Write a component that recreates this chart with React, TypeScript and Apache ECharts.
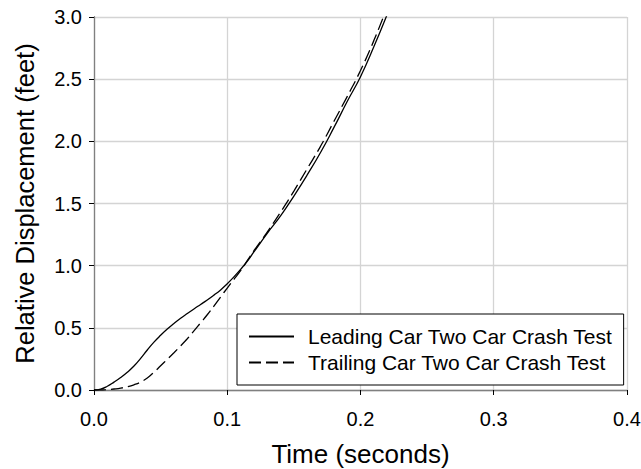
import React, { useEffect, useRef } from "react";
import * as echarts from "echarts";

const timeLeading = [0, 0.005, 0.01, 0.015, 0.02, 0.025, 0.03, 0.035, 0.04, 0.045, 0.05, 0.055, 0.06, 0.065, 0.07, 0.075, 0.08, 0.085, 0.09, 0.095, 0.1, 0.105, 0.11, 0.115, 0.12, 0.13, 0.14, 0.15, 0.16, 0.17, 0.18, 0.19, 0.2, 0.21, 0.22];
const leadingDisp = [0, 0.007, 0.03, 0.063, 0.1, 0.143, 0.193, 0.255, 0.322, 0.385, 0.44, 0.49, 0.535, 0.577, 0.615, 0.652, 0.688, 0.724, 0.763, 0.805, 0.855, 0.91, 0.97, 1.035, 1.11, 1.26, 1.4, 1.56, 1.73, 1.91, 2.11, 2.32, 2.52, 2.76, 3.02];

const timeTrailing = [0, 0.005, 0.01, 0.015, 0.02, 0.025, 0.03, 0.035, 0.04, 0.045, 0.05, 0.055, 0.06, 0.065, 0.07, 0.075, 0.08, 0.085, 0.09, 0.095, 0.1, 0.105, 0.11, 0.115, 0.12, 0.13, 0.14, 0.15, 0.16, 0.17, 0.18, 0.19, 0.2, 0.21, 0.22];
const trailingDisp = [0, 0, 0.003, 0.008, 0.015, 0.026, 0.042, 0.064, 0.097, 0.143, 0.195, 0.247, 0.3, 0.355, 0.412, 0.475, 0.54, 0.605, 0.675, 0.748, 0.82, 0.89, 0.96, 1.04, 1.12, 1.27, 1.43, 1.6, 1.78, 1.96, 2.16, 2.36, 2.57, 2.81, 3.08];

const seriesNames = ["Leading Car Two Car Crash Test", "Trailing Car Two Car Crash Test"];
const xTitle = "Time (seconds)";
const yTitle = "Relative Displacement (feet)";

const FONT = "'Liberation Sans', Arial, sans-serif";

export default function App() {
  const ref = useRef<HTMLDivElement>(null);
  useEffect(() => {
    if (!ref.current) return;
    const chart = echarts.init(ref.current, null, { renderer: "svg" });
    const pair = (xs: number[], ys: number[]) => xs.map((x, i) => [x, ys[i]]);
    chart.setOption({
      animation: false,
      backgroundColor: "#ffffff",
      textStyle: { fontFamily: FONT },
      grid: { left: 94, right: 14, top: 17, bottom: 79, containLabel: false, outerBoundsMode: "none" },
      legend: {
        orient: "vertical",
        left: 237,
        top: 314,
        padding: [12, 11, 12, 11],
        itemGap: 5,
        itemWidth: 45,
        itemHeight: 20,
        borderColor: "#000",
        borderWidth: 1,
        backgroundColor: "#fff",
        itemStyle: { color: "transparent", borderColor: "transparent", borderWidth: 0, opacity: 0 },
        textStyle: { fontFamily: FONT, fontSize: 21, color: "#000", padding: [0, 0, 0, 9] },
        data: seriesNames.map((n) => ({ name: n })),
      },
      xAxis: [
        {
          type: "value",
          min: 0,
          max: 0.4,
          interval: 0.1,
          name: xTitle,
          nameLocation: "middle",
          nameGap: 51,
          nameTextStyle: { fontFamily: FONT, fontSize: 26, color: "#000" },
          axisLine: { show: true, onZero: false, lineStyle: { color: "#000", width: 1 } },
          axisTick: { show: true, inside: false, length: 5, lineStyle: { color: "#000" } },
          axisLabel: { fontFamily: FONT, fontSize: 20, color: "#000", margin: 19, formatter: (v: number) => v.toFixed(1) },
          splitLine: { show: true, lineStyle: { color: "#d4d4d4", width: 1.3 } },
        },
        {
          type: "value",
          position: "top",
          min: 0,
          max: 0.4,
          interval: 0.1,
          axisLine: { show: true, lineStyle: { color: "#808080", width: 1.3 } },
          axisTick: { show: false },
          axisLabel: { show: false },
          splitLine: { show: false },
        },
      ],
      yAxis: [
        {
          type: "value",
          min: 0,
          max: 3,
          interval: 0.5,
          name: yTitle,
          nameLocation: "middle",
          nameGap: 56,
          nameTextStyle: { fontFamily: FONT, fontSize: 25.5, color: "#000" },
          axisLine: { show: true, onZero: false, lineStyle: { color: "#404040", width: 1 } },
          axisTick: { show: true, inside: false, length: 5, lineStyle: { color: "#000" } },
          axisLabel: { fontFamily: FONT, fontSize: 20, color: "#000", margin: 12, formatter: (v: number) => v.toFixed(1) },
          splitLine: { show: true, lineStyle: { color: "#d4d4d4", width: 1.3 } },
        },
        {
          type: "value",
          position: "right",
          min: 0,
          max: 3,
          interval: 0.5,
          axisLine: { show: true, lineStyle: { color: "#808080", width: 1.3 } },
          axisTick: { show: false },
          axisLabel: { show: false },
          splitLine: { show: false },
        },
      ],
      series: [
        {
          name: seriesNames[0],
          type: "line",
          data: pair(timeLeading, leadingDisp),
          smooth: 0.5,
          symbol: "none",
          clip: true,
          lineStyle: { color: "#000", width: 1.3, type: "solid" },
          itemStyle: { color: "#000" },
        },
        {
          name: seriesNames[1],
          type: "line",
          data: pair(timeTrailing, trailingDisp),
          smooth: 0.5,
          symbol: "none",
          clip: true,
          lineStyle: { color: "#000", width: 1.3, type: [12, 5] },
          itemStyle: { color: "#000" },
        },
      ],
    });
    return () => chart.dispose();
  }, []);
  return <div ref={ref} style={{ width: 641, height: 469, position: "absolute", left: 0, top: 0 }} />;
}
